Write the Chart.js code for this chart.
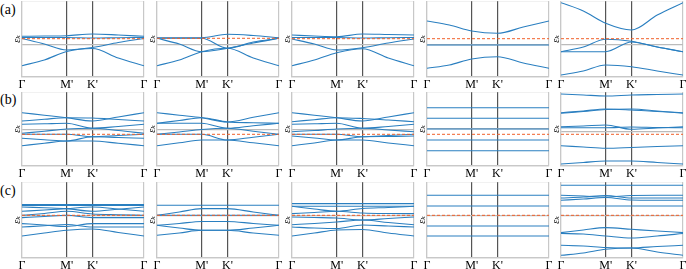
<!DOCTYPE html>
<html>
<head>
<meta charset="utf-8">
<script src="https://cdn.jsdelivr.net/npm/chart.js@4.4.0/dist/chart.umd.min.js"></script>
<style>
  body { margin: 0; width: 686px; height: 269px; background: #fff; position: relative; overflow: hidden; }
  canvas { position: absolute; }
  .tag { position: absolute; left: 0; font-family: "Liberation Serif", "DejaVu Serif", serif; font-size: 14px; line-height: 1; color: #000; }
</style>
</head>
<body>
<div class="tag" style="top:3px">(a)</div>
<div class="tag" style="top:93px">(b)</div>
<div class="tag" style="top:184px">(c)</div>
<script>
// k path: Γ -> M' -> K' -> Γ (hexagonal lengths 1, 1/√3, 2/√3)
const kPath = [0, 0.5, 1, 1.577, 2.155, 2.732];
const kTicks = [0, 1, 1.577, 2.732];
const kLabels = ["Γ", "M'", "K'", "Γ"];

// levels = [chemical potential (dashed), zero line (grey)]
// row (a)
const bandsA1 = [
    [40.7, 41, 41.3, 43, 42, 40.7],
    [39.5, 39.5, 39.5, 39, 39.3, 39.5],
    [38.5, 33, 27, 29.5, 34.5, 38.5],
    [11.3, 17, 25.5, 28.5, 19, 11.3],
];
const levelsA1 = [38.3, 32];
const bandsA2 = [
    [39.3, 39.3, 39.3, 42.7, 41.5, 39.3],
    [38.7, 38.7, 38.7, 28.7, 35, 38.7],
    [38.7, 33, 25.3, 28.7, 34, 38.7],
    [11.3, 17, 25.3, 28.7, 19, 11.3],
];
const levelsA2 = [38.7, 32];
const bandsA3 = [
    [42, 41, 40.3, 43, 42.5, 42],
    [39.5, 39.5, 39.5, 39, 39.3, 39.5],
    [38, 33, 27, 29.3, 34, 38],
    [11.3, 17, 24.3, 28.3, 19, 11.3],
];
const levelsA3 = [38.3, 32];
const bandsA4 = [
    [56, 52, 46, 43.7, 50, 56],
    [32, 32, 32, 32, 32, 32],
    [8.7, 12, 18, 20.3, 14, 8.7],
];
const levelsA4 = [38.3, 32];
const bandsA5 = [
    [74.3, 66, 53.7, 47, 62, 74.3],
    [25.3, 30, 37.7, 35.7, 30, 25.3],
    [25.3, 25.3, 25.3, 35, 30, 25.3],
    [2, 6, 12, 10.3, 6, 2],
];
const levelsA5 = [38.3, 32];

// row (b)
const bandsB1 = [
    [53.3, 50.8, 48.3, 45, 49, 53.3],
    [45, 46.7, 48.3, 48, 46.5, 45],
    [41.7, 42.2, 42.7, 37.7, 39.5, 41.7],
    [32.7, 34.8, 37, 37.7, 35.5, 32.7],
    [31.7, 31.7, 31.7, 29.3, 30.5, 31.7],
    [27.7, 26.3, 25, 29.3, 28.5, 27.7],
    [20.3, 22.7, 25, 25, 22.7, 20.3],
];
const levelsB1 = [31.7, 36];
const bandsB2 = [
    [53.3, 50.8, 48.3, 44, 48.7, 53.3],
    [42.7, 45.5, 48.3, 44, 43.3, 42.7],
    [42.7, 42.7, 42.7, 37.7, 40.2, 42.7],
    [31.7, 34, 36.5, 37.7, 34.7, 31.7],
    [31.7, 31.7, 31.7, 26, 28.8, 31.7],
    [20.3, 23.2, 26, 26, 23.2, 20.3],
];
const levelsB2 = [31.7, 36];
const bandsB3 = [
    [53.3, 50.8, 48.3, 45, 49, 53.3],
    [44.3, 46.3, 48.3, 47.5, 46, 44.3],
    [41.7, 42.2, 42.7, 37.7, 39.5, 41.7],
    [34.3, 35.5, 37, 37.7, 36, 34.3],
    [31.7, 31.7, 31.7, 29.3, 30.5, 31.7],
    [30, 28, 26, 29.3, 29.5, 30],
    [20.3, 23, 26, 26, 23, 20.3],
];
const levelsB3 = [31.7, 36];
const bandsB4 = [
    [58.3, 58.3, 58.3, 58.3, 58.3, 58.3],
    [47.7, 47.7, 47.7, 47.7, 47.7, 47.7],
    [37, 37, 37, 37, 37, 37],
    [26, 26, 26, 26, 26, 26],
    [15.3, 15.3, 15.3, 15.3, 15.3, 15.3],
];
const levelsB4 = [31.7, 37];
const bandsB5 = [
    [72, 71, 70, 71, 71.5, 72],
    [53.3, 55, 57, 56, 54.5, 53.3],
    [52.7, 54.5, 56.5, 57, 55, 52.7],
    [39.3, 40, 41, 36.7, 38, 39.3],
    [38.3, 38.3, 38.3, 39, 38.5, 38.3],
    [20.3, 19, 17.7, 18.5, 19.5, 20.3],
    [2, 3.5, 5, 5, 3.5, 2],
];
const levelsB5 = [31.7, 34];

// row (c)
const bandsC1 = [
    [53.4, 53.4, 53.4, 53.4, 53.4, 53.4],
    [52.5, 52.5, 52.5, 52.5, 52.5, 52.5],
    [51, 50.2, 49.4, 46.7, 48.8, 51],
    [46.7, 48, 49.4, 51, 49, 46.7],
    [42.7, 44.5, 46.7, 44, 43.3, 42.7],
    [40.4, 41.5, 42.7, 40.4, 40.4, 40.4],
    [34.4, 33, 31.5, 34.4, 34.4, 34.4],
    [31, 32.2, 33.5, 31, 31, 31],
    [22, 25, 27.7, 29, 25.5, 22],
];
const levelsC1 = [42.7, 42.7];
const bandsC2 = [
    [52.7, 52.7, 52.7, 52.7, 52.7, 52.7],
    [42.7, 46, 49.4, 49.4, 46, 42.7],
    [42.7, 42.7, 42.7, 42.7, 42.7, 42.7],
    [32.7, 34.5, 36.5, 36.5, 34.5, 32.7],
    [32.7, 30, 27.7, 27.7, 30, 32.7],
    [22.7, 25, 27.7, 27.7, 25, 22.7],
];
const levelsC2 = [42.7, 42.7];
const bandsC3 = [
    [54.4, 54.4, 54.4, 54.4, 54.4, 54.4],
    [51.7, 51.7, 51.7, 51.7, 51.7, 51.7],
    [51.7, 49, 46.7, 49.5, 50.5, 51.7],
    [44.4, 45.5, 46.7, 45, 44.5, 44.4],
    [41, 40.5, 40, 38, 39.5, 41],
    [33.3, 34.5, 36, 38, 35.5, 33.3],
    [31, 30, 29.5, 33, 32, 31],
    [22, 25, 28, 28.5, 25, 22],
];
const levelsC3 = [42.7, 42.7];
const bandsC4 = [
    [62.7, 62.7, 62.7, 62.7, 62.7, 62.7],
    [52, 52, 52, 52, 52, 52],
    [32, 32, 32, 32, 32, 32],
    [22, 22, 22, 22, 22, 22],
];
const levelsC4 = [42.7, 42.7];
const bandsC5 = [
    [72.7, 72.7, 72.7, 72.7, 72.7, 72.7],
    [62.7, 62, 61, 62.5, 62.7, 62.7],
    [60, 61, 62.5, 60, 60, 60],
    [57.7, 59, 60.5, 58, 57.8, 57.7],
    [52, 52, 52, 52, 52, 52],
    [25.4, 28, 30.4, 28.7, 27, 25.4],
    [24.5, 24, 22, 20, 22, 24.5],
    [12.7, 12, 10.5, 10, 11.5, 12.7],
    [2.7, 5, 8.7, 10, 6, 2.7],
];
const levelsC5 = [42.7, 42.7];

const panels = [
    [bandsA1, levelsA1], [bandsA2, levelsA2], [bandsA3, levelsA3], [bandsA4, levelsA4], [bandsA5, levelsA5],
    [bandsB1, levelsB1], [bandsB2, levelsB2], [bandsB3, levelsB3], [bandsB4, levelsB4], [bandsB5, levelsB5],
    [bandsC1, levelsC1], [bandsC2, levelsC2], [bandsC3, levelsC3], [bandsC4, levelsC4], [bandsC5, levelsC5],
];

// layout of plot boxes
const colX = [22, 157, 292, 427, 561];
const rowTop = [1, 92, 182];
const rowH = [76, 74, 76];
const plotW = 122;
const axisW = 11;
const axisH = 16;
const padRight = 7;

const frameColor = "#c8c8c8";
const bandColor = "#2a7fc0";
const serif = "'Liberation Serif', 'DejaVu Serif', serif";

panels.forEach(([bands, levels], n) => {
    const r = Math.floor(n / 5), c = n % 5;
    const h = rowH[r];
    const cv = document.createElement("canvas");
    cv.width = axisW + plotW + padRight;
    cv.height = h + axisH;
    cv.style.left = (colX[c] - axisW) + "px";
    cv.style.top = rowTop[r] + "px";
    document.body.appendChild(cv);

    const datasets = [{
        data: [{ x: 0, y: levels[0] }, { x: kTicks[3], y: levels[0] }],
        borderColor: "#f0602a",
        borderWidth: 1,
        borderDash: [3, 2],
        pointRadius: 0,
    }];
    bands.forEach(b => {
        datasets.push({
            data: kPath.map((k, i) => ({ x: k, y: b[i] })),
            borderColor: bandColor,
            borderWidth: 1.1,
            pointRadius: 0,
            cubicInterpolationMode: "monotone",
        });
    });

    new Chart(cv.getContext("2d"), {
        type: "line",
        data: { datasets },
        options: {
            responsive: false,
            animation: false,
            events: [],
            layout: { padding: { left: 0, right: padRight, top: 0, bottom: 0 } },
            plugins: { legend: { display: false }, tooltip: { enabled: false } },
            scales: {
                x: {
                    type: "linear",
                    min: 0,
                    max: kTicks[3],
                    afterBuildTicks: s => { s.ticks = kTicks.map(v => ({ value: v })); },
                    afterFit: s => { s.height = axisH; },
                    ticks: {
                        autoSkip: false,
                        maxRotation: 0,
                        padding: 1,
                        color: "#000",
                        font: { family: serif, size: 12 },
                        callback: (v, i) => kLabels[i],
                    },
                    grid: {
                        drawTicks: false,
                        color: ctx => (ctx.index === 1 || ctx.index === 2) ? "#555" : frameColor,
                        lineWidth: 1.2,
                    },
                    border: { color: frameColor, width: 1.2 },
                },
                y: {
                    min: 0,
                    max: h,
                    afterBuildTicks: s => { s.ticks = [{ value: 0 }, { value: levels[1] }, { value: h }]; },
                    afterFit: s => { s.width = axisW; },
                    ticks: { display: false },
                    grid: {
                        drawTicks: false,
                        color: ctx => ctx.index === 1 ? "#bbbbbb" : frameColor,
                        lineWidth: 1.2,
                    },
                    border: { color: frameColor, width: 1.2 },
                    title: {
                        display: true,
                        text: "εₖ",
                        padding: 0,
                        color: "#000",
                        font: { family: serif, size: 10, style: "italic" },
                    },
                },
            },
        },
    });
});
</script>
</body>
</html>
